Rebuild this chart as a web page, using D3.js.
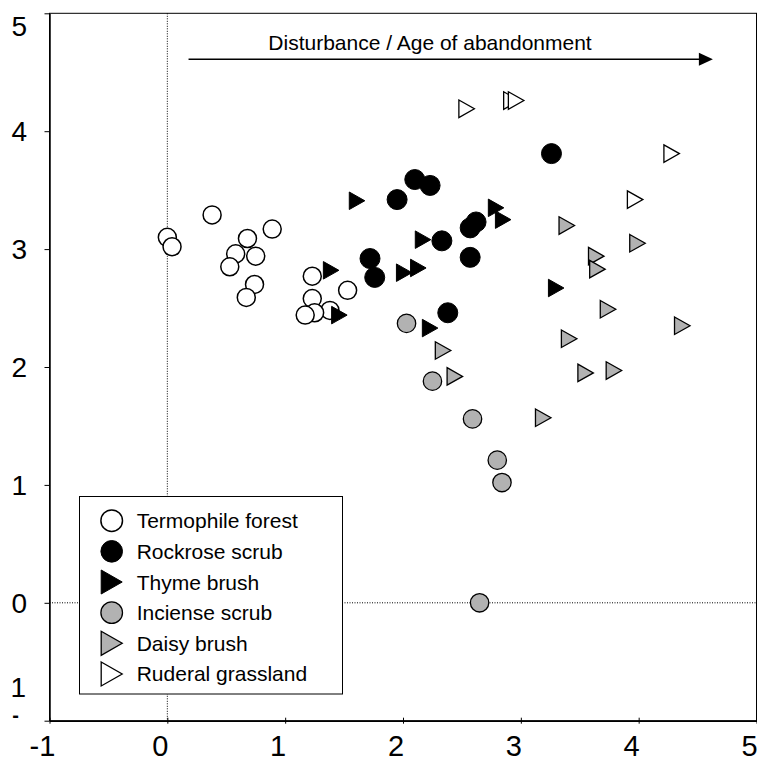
<!DOCTYPE html>
<html>
<head>
<meta charset="utf-8">
<script src="https://cdn.jsdelivr.net/npm/d3@7"></script>
<style>
  body { margin: 0; background: #fff; }
  svg text { font-family: "Liberation Sans", Arial, sans-serif; fill: #000; }
</style>
</head>
<body>
<script>
// series data, [x, y]
var seriesNames = ["Termophile forest", "Rockrose scrub", "Thyme brush",
                   "Inciense scrub", "Daisy brush", "Ruderal grassland"];

var termophile = [[0.00,3.10],[0.04,3.02],[0.38,3.29],[0.68,3.09],[0.58,2.96],
  [0.75,2.94],[0.53,2.85],[0.89,3.17],[0.74,2.70],[0.67,2.59],[1.23,2.77],
  [1.23,2.58],[1.53,2.65],[1.38,2.48],[1.25,2.46],[1.17,2.44]];
var rockrose = [[2.10,3.59],[2.23,3.54],[1.95,3.42],[2.62,3.23],[2.57,3.18],
  [2.33,3.07],[2.57,2.93],[1.72,2.92],[1.76,2.76],[2.38,2.46],[3.26,3.81]];
var thyme = [[1.61,3.41],[2.79,3.35],[2.85,3.25],[2.17,3.08],[1.39,2.82],
  [2.01,2.80],[2.13,2.84],[1.46,2.44],[2.23,2.33],[3.30,2.67]];
var inciense = [[2.03,2.37],[2.25,1.88],[2.59,1.56],[2.80,1.21],[2.84,1.02],[2.65,0.00]];
var daisy = [[3.39,3.20],[3.99,3.05],[3.64,2.94],[3.65,2.83],[3.74,2.49],
  [4.37,2.35],[3.41,2.24],[2.34,2.14],[2.44,1.92],[3.55,1.95],[3.79,1.97],[3.19,1.57]];
var ruderal = [[2.54,4.19],[2.92,4.26],[2.96,4.26],[4.28,3.81],[3.97,3.42]];

var xTicks = [-1, 0, 1, 2, 3, 4, 5];
var yTicks = [-1, 0, 1, 2, 3, 4, 5];
var arrowText = "Disturbance / Age of abandonment";
var arrowFrom = [0.18, 4.61], arrowTo = [4.63, 4.61];

function init(){
    var w = 757, h = 763;
    var svg = d3.select("body").append("svg")
        .attr("width", w).attr("height", h);

    var x = d3.scaleLinear().domain([-1, 5]).range([49.5, 756.5]);
    var y = d3.scaleLinear().domain([-1, 5]).range([720.7, 13.3]);

    // frame
    svg.append("rect")
        .attr("x", x(-1)).attr("y", y(5))
        .attr("width", x(5) - x(-1)).attr("height", y(-1) - y(5))
        .attr("fill", "none").attr("stroke", "#000").attr("stroke-width", 1);

    // dotted zero lines
    svg.append("line")
        .attr("x1", x(0)).attr("x2", x(0)).attr("y1", y(5)).attr("y2", y(-1))
        .attr("stroke", "#000").attr("stroke-width", 1).attr("stroke-dasharray", "1,1.5");
    svg.append("line")
        .attr("x1", x(-1)).attr("x2", x(5)).attr("y1", y(0)).attr("y2", y(0))
        .attr("stroke", "#000").attr("stroke-width", 1).attr("stroke-dasharray", "1,1.5");

    // axes
    var yAxis = svg.append("g")
        .attr("transform", "translate(" + x(-1) + ",0)")
        .call(d3.axisLeft(y).tickValues(yTicks).tickSize(5).tickSizeOuter(0).tickFormat(""));
    var xAxis = svg.append("g")
        .attr("transform", "translate(0," + y(-1) + ")")
        .call(d3.axisBottom(x).tickValues(xTicks).tickSize(3).tickSizeOuter(0).tickFormat(""));
    xAxis.selectAll(".tick line").attr("y1", -3).attr("y2", 3);
    [yAxis, xAxis].forEach(function(a){
        a.select(".domain").attr("stroke", "#000").attr("stroke-width", 1.5);
        a.selectAll(".tick line").attr("stroke", "#000").attr("stroke-width", 1);
    });

    // y tick labels
    yTicks.forEach(function(t){
        var ty = y(t);
        if (t === 5) ty = ty + 13;
        if (t === -1) {
            // the "-1" label is wrapped in the original: "1" above "-"
            var lab = svg.append("text").attr("x", 26).attr("y", 697)
                .attr("text-anchor", "end").style("font-size", "28px");
            lab.append("tspan").text("1");
            lab.append("tspan").attr("x", 19).attr("dy", 25)
                .style("font-size", "20px").style("font-weight", "bold").text("-");
            return;
        }
        svg.append("text").attr("x", 27).attr("y", ty + 10)
            .attr("text-anchor", "end").style("font-size", "28px").text(t);
    });
    // x tick labels
    xTicks.forEach(function(t){
        svg.append("text").attr("x", x(t) - 7).attr("y", 756)
            .attr("text-anchor", "middle").style("font-size", "29px").text(t);
    });

    // arrow annotation
    svg.append("line")
        .attr("x1", x(arrowFrom[0])).attr("y1", y(arrowFrom[1]))
        .attr("x2", x(arrowTo[0]) - 12).attr("y2", y(arrowTo[1]))
        .attr("stroke", "#000").attr("stroke-width", 1.5);
    var tipX = x(arrowTo[0]), tipY = y(arrowTo[1]);
    svg.append("path")
        .attr("d", "M" + tipX + "," + tipY + "L" + (tipX - 14) + "," + (tipY - 6.5) +
             "L" + (tipX - 14) + "," + (tipY + 6.5) + "Z")
        .attr("fill", "#000");
    svg.append("text").attr("x", 430).attr("y", 50)
        .attr("text-anchor", "middle").style("font-size", "21px").text(arrowText);

    // marker styles
    var styles = [
        {shape: "circle", fill: "#fff", r: 9, sw: 1.5},
        {shape: "circle", fill: "#000", r: 10, sw: 1},
        {shape: "tri", fill: "#000", sw: 1},
        {shape: "circle", fill: "#b2b2b2", r: 9.2, sw: 1.3},
        {shape: "tri", fill: "#b2b2b2", sw: 1.3},
        {shape: "tri", fill: "#fff", sw: 1.3}
    ];
    var allSeries = [termophile, rockrose, thyme, inciense, daisy, ruderal];

    function triPath(tw, th){
        return "M" + (-tw / 2) + "," + (-th / 2) + "L" + (tw / 2) + ",0L" + (-tw / 2) + "," + (th / 2) + "Z";
    }

    allSeries.forEach(function(data, i){
        var s = styles[i];
        var g = svg.append("g");
        if (s.shape === "circle") {
            g.selectAll("circle").data(data).enter().append("circle")
                .attr("cx", function(d){ return x(d[0]); })
                .attr("cy", function(d){ return y(d[1]); })
                .attr("r", s.r)
                .attr("fill", s.fill).attr("stroke", "#000").attr("stroke-width", s.sw);
        } else {
            g.selectAll("path").data(data).enter().append("path")
                .attr("transform", function(d){ return "translate(" + x(d[0]) + "," + y(d[1]) + ")"; })
                .attr("d", triPath(15.5, 17.5))
                .attr("fill", s.fill).attr("stroke", "#000").attr("stroke-width", s.sw)
                .attr("stroke-linejoin", "miter");
        }
    });

    // legend
    var lg = svg.append("g");
    lg.append("rect").attr("x", 79.5).attr("y", 496.5).attr("width", 263).attr("height", 197.5)
        .attr("fill", "#fff").attr("stroke", "#000").attr("stroke-width", 1);
    seriesNames.forEach(function(name, i){
        var cy = 520.7 + i * 30.65;
        var s = styles[i];
        if (s.shape === "circle") {
            lg.append("circle").attr("cx", 111.7).attr("cy", cy).attr("r", 10.8)
                .attr("fill", s.fill).attr("stroke", "#000").attr("stroke-width", s.sw);
        } else {
            lg.append("path").attr("transform", "translate(111.7," + cy + ")")
                .attr("d", triPath(21, 24))
                .attr("fill", s.fill).attr("stroke", "#000").attr("stroke-width", s.sw);
        }
        lg.append("text").attr("x", 136.7).attr("y", cy + 7.5)
            .style("font-size", "21px").text(name);
    });
}

window.onload = init;
</script>
</body>
</html>
